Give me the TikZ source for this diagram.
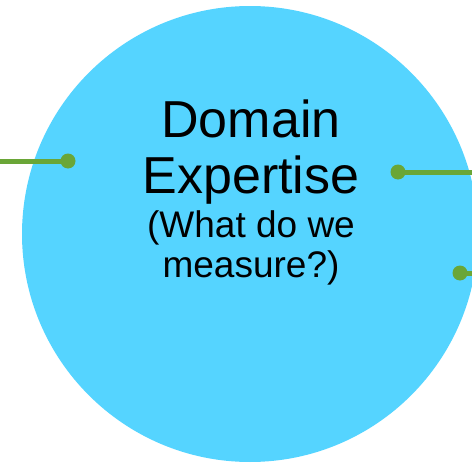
\documentclass[tikz,border=0pt]{standalone}
\usepackage{fontspec}
\setmainfont{Liberation Sans}
\usetikzlibrary{positioning}
\definecolor{skyblue}{RGB}{85,212,255}
\definecolor{leafgreen}{RGB}{106,166,55}

\begin{document}
\begin{tikzpicture}[
  x=1pt, y=-1pt,
  bubble/.style={
    circle,
    fill=skyblue,
    inner sep=0mm,
    minimum size=456pt
  },
  dot/.style={
    circle,
    fill=leafgreen,
    inner sep=0mm,
    minimum size=15pt
  },
  link/.style={
    draw=leafgreen,
    line width=5pt
  },
  title/.style={
    align=center,
    anchor=base,
    inner sep=0mm,
    font=\fontsize{52}{56}\selectfont
  },
  subtitle/.style={
    align=center,
    anchor=base,
    inner sep=0mm,
    font=\fontsize{37}{40}\selectfont
  }
]

\useasboundingbox (0,0) rectangle (472,463);
\clip (0,0) rectangle (472,463);

\node(domain)[bubble] at (250,234) {};

% base anchor sits on the last line
\node(head)[title] at (251,193) {Domain\\Expertise};
\node(question)[subtitle] at (251,277) {(What do we\\measure?)};

\node(dotleft)[dot] at (68,161) {};
\node(dotright)[dot] at (398,172) {};
\node(dotlow)[dot] at (460,273) {};

\coordinate (edgeleft) at (0,161);
\coordinate (edgeright) at (472,172);
\coordinate (edgelow) at (472,273);

\draw[link] (edgeleft) -- (dotleft.center);
\draw[link] (dotright.center) -- (edgeright);
\draw[link] (dotlow.center) -- (edgelow);

\end{tikzpicture}
\end{document}
